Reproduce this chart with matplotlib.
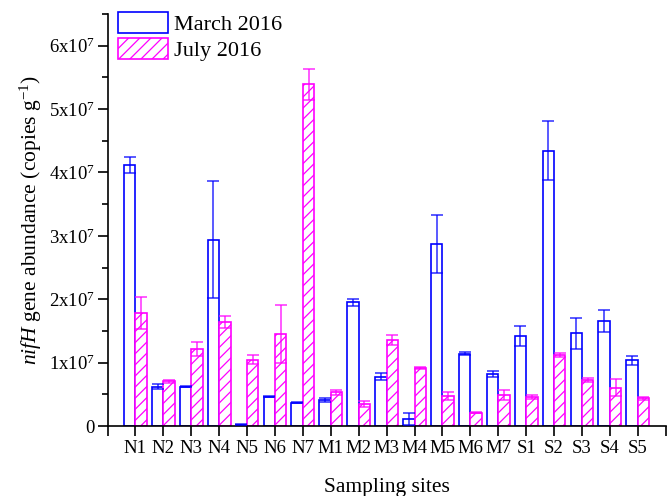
import matplotlib
matplotlib.use("Agg")
import matplotlib.pyplot as plt
import numpy as np
from matplotlib.ticker import FixedLocator, MultipleLocator, FuncFormatter

plt.rcParams['font.family'] = ['Liberation Serif', 'DejaVu Serif']
plt.rcParams['mathtext.fontset'] = 'custom'
plt.rcParams['mathtext.rm'] = 'Liberation Serif'
plt.rcParams['mathtext.it'] = 'Liberation Serif:italic'
plt.rcParams['hatch.linewidth'] = 0.9

sites = ['N1', 'N2', 'N3', 'N4', 'N5', 'N6', 'N7',
         'M1', 'M2', 'M3', 'M4', 'M5', 'M6', 'M7',
         'S1', 'S2', 'S3', 'S4', 'S5']
# values in units of 1e7 copies/g
march = [4.12, 0.62, 0.62, 2.94, 0.02, 0.46, 0.37,
         0.41, 1.95, 0.78, 0.11, 2.87, 1.14, 0.82,
         1.42, 4.34, 1.46, 1.66, 1.04]
march_err = [0.13, 0.04, 0.01, 0.92, 0.01, 0.01, 0.005,
             0.025, 0.05, 0.05, 0.10, 0.455, 0.02, 0.05,
             0.15, 0.465, 0.25, 0.17, 0.07]
july = [1.78, 0.705, 1.21, 1.64, 1.047, 1.453, 5.39,
        0.532, 0.347, 1.353, 0.91, 0.474, 0.21, 0.489,
        0.453, 1.116, 0.721, 0.605, 0.437]
july_err = [0.25, 0.02, 0.11, 0.09, 0.07, 0.46, 0.24,
            0.04, 0.05, 0.08, 0.015, 0.06, 0.005, 0.085,
            0.03, 0.03, 0.03, 0.13, 0.025]

scale = 1e7
blue = '#0000ff'
mag = '#ff00ff'

fig = plt.figure(figsize=(6.67, 4.96), dpi=100)
ax = fig.add_axes([0.1612, 0.1411, 0.998 - 0.1612, 0.9718 - 0.1411])

x = np.arange(1, len(sites) + 1)
w = 0.41
m = np.array(march) * scale
me = np.array(march_err) * scale
j = np.array(july) * scale
je = np.array(july_err) * scale

ax.bar(x - w / 2, m, w, facecolor='white', edgecolor=blue, linewidth=1.2,
       label='March 2016', zorder=2)
ax.bar(x + w / 2, j, w, facecolor='white', edgecolor=mag, linewidth=1.2,
       hatch='///', label='July 2016', zorder=2)
ax.errorbar(x - w / 2, m, yerr=me, fmt='none', ecolor=blue, elinewidth=1.3,
            capsize=4.5, capthick=1.3, alpha=0.7, zorder=3)
ax.errorbar(x + w / 2, j, yerr=je, fmt='none', ecolor=mag, elinewidth=1.3,
            capsize=4.5, capthick=1.3, alpha=0.7, zorder=3)

ax.set_xlim(0, 20)
ax.set_ylim(0, 6.5e7)
ax.spines['top'].set_visible(False)
ax.spines['right'].set_visible(False)
ax.spines['left'].set_linewidth(1.2)
ax.spines['bottom'].set_linewidth(1.2)

ax.xaxis.set_major_locator(FixedLocator(list(range(0, 21))))
ax.set_xticklabels([''] + sites + [''])
ax.yaxis.set_major_locator(MultipleLocator(1e7))
ax.yaxis.set_minor_locator(MultipleLocator(5e6))


def fmt(v, pos):
    n = int(round(v / 1e7))
    if n == 0:
        return '0'
    return r'$\mathregular{%dx10^{7}}$' % n


ax.yaxis.set_major_formatter(FuncFormatter(fmt))
ax.tick_params(axis='both', which='major', direction='out', length=7, width=1.2,
               labelsize=13.5)
ax.tick_params(axis='y', which='minor', direction='out', length=4, width=1.2)
ax.tick_params(axis='x', pad=3)
ax.tick_params(axis='y', pad=2)

ax.set_xlabel('Sampling sites', fontsize=15.5, labelpad=15)
ax.set_ylabel(r'$\mathit{nifH}$ gene abundance (copies g$^{\mathregular{-1}}$)',
              fontsize=15.5, labelpad=4)

leg = ax.legend(loc='upper left', bbox_to_anchor=(0.018, 1.005), frameon=False,
                fontsize=16, handlelength=2.25, handleheight=1.05,
                handletextpad=0.3, labelspacing=0.15, borderpad=0,
                borderaxespad=0)

fig.savefig('out.png', dpi=100)
